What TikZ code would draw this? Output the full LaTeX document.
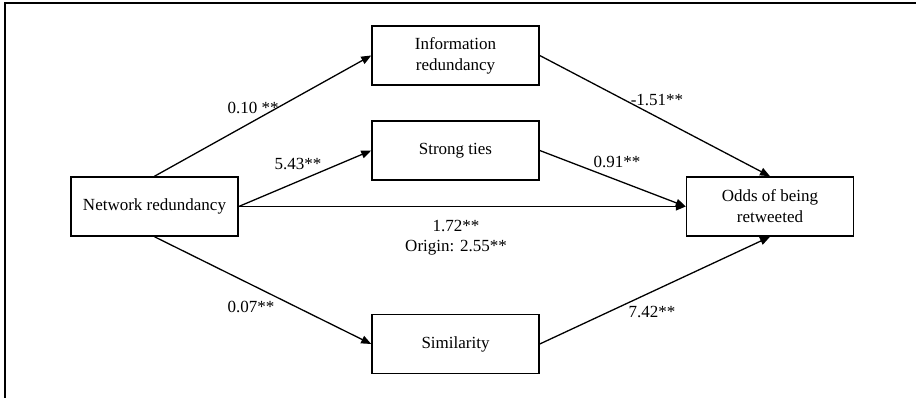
\documentclass[tikz,border=0pt]{standalone}
\usepackage{fontspec}
\setmainfont{Liberation Serif}
\usetikzlibrary{arrows.meta}
\begin{document}
\begin{tikzpicture}[x=1pt,y=-1pt,
  box/.style={draw,line width=1.5pt,minimum width=167pt,minimum height=59pt,inner sep=0pt,align=center,font=\fontsize{17}{21}\selectfont},
  lbl/.style={inner sep=0pt,align=center,font=\fontsize{17}{20}\selectfont},
  arr/.style={line width=1.3pt,-{Triangle[length=10pt,width=8pt]}}]
\useasboundingbox (0,0) rectangle (916,398);
\draw[line width=1.8pt] (5,398) -- (5,3) -- (916,3);
\node[box] (nr) at (154.5,206.5) {Network redundancy};
\node[box] (info) at (455.5,55.5) {Information\\redundancy};
\node[box] (st) at (455.5,150.5) {Strong ties};
\node[box] (sim) at (455.5,344) {Similarity};
\node[box] (odds) at (770,206.5) {Odds of being\\retweeted};
\draw[arr] (nr.north) -- (info.west);
\draw[arr] (nr.east) -- (st.west);
\draw[arr] (nr.east) -- (odds.west);
\draw[arr] (nr.south) -- (sim.west);
\draw[arr] (info.east) -- (odds.north);
\draw[arr] (st.east) -- (odds.west);
\draw[arr] (sim.east) -- (odds.south);
\node[lbl] (l1) at (253,108) {0.10 **};
\node[lbl] (l2) at (298,164) {5.43**};
\node[lbl] (l3) at (657,100) {-1.51**};
\node[lbl] (l4) at (617,162) {0.91**};
\node[lbl] (l5) at (456,238) {1.72**\\Origin: 2.55**};
\node[lbl] (l6) at (251,307) {0.07**};
\node[lbl] (l7) at (652,312) {7.42**};
\end{tikzpicture}
\end{document}
